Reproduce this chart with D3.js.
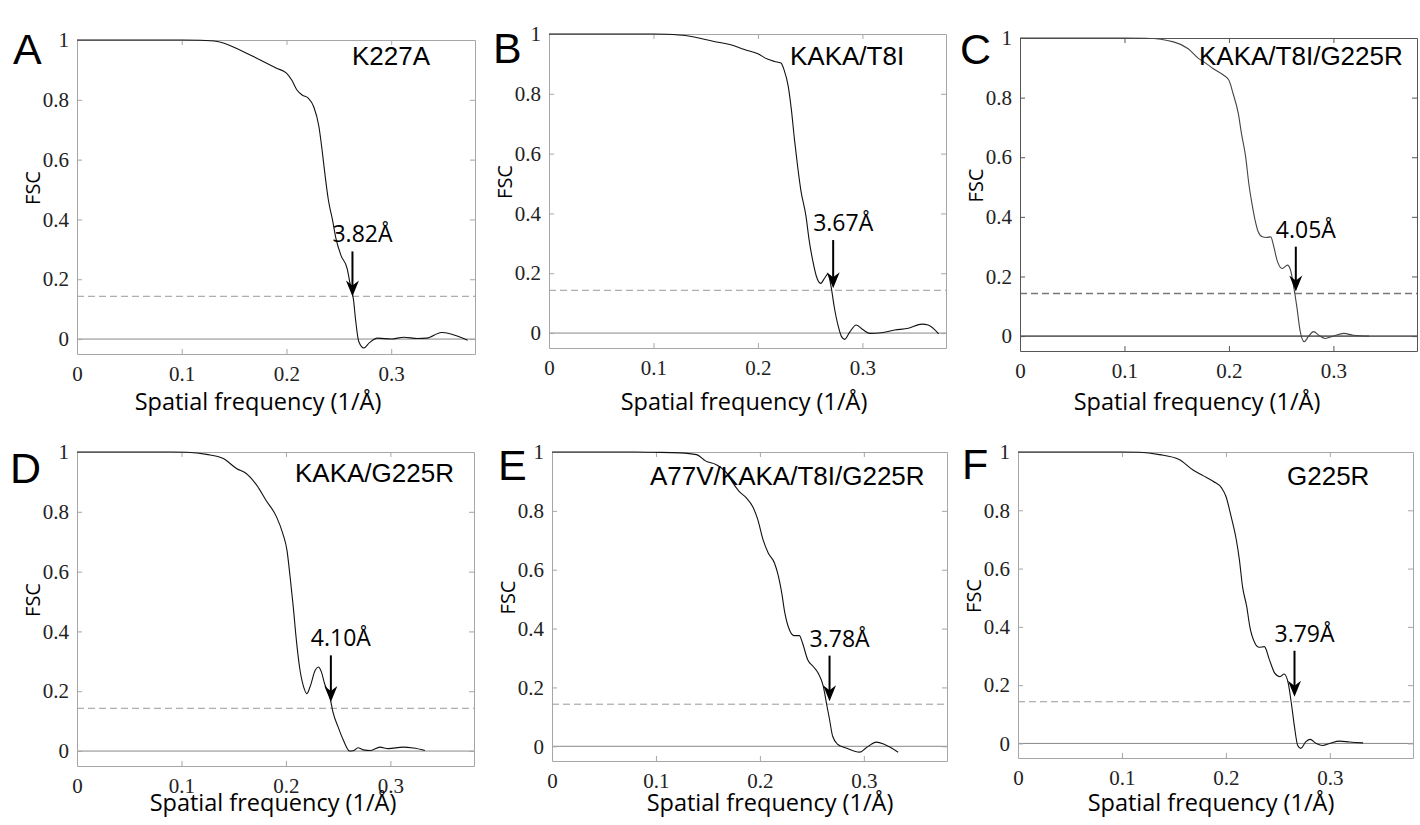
<!DOCTYPE html>
<html lang="en">
<head>
  <meta charset="UTF-8">
  <title>FSC curves</title>
  <script src="https://d3js.org/d3.v7.min.js"></script>
  <style>
    body { margin: 0; background: #fff; }
  </style>
</head>
<body>
  <div id="chart"></div>

  <script>
    // FSC curves, [spatial frequency (1/Å), FSC]
    const fscA = [[0,1],[0.1,1],[0.118,0.999],[0.134,0.995],[0.156,0.966],[0.175,0.933],[0.191,0.905],[0.2,0.889],[0.205,0.866],[0.21,0.833],[0.215,0.816],[0.221,0.805],[0.226,0.777],[0.231,0.71],[0.234,0.632],[0.237,0.543],[0.24,0.465],[0.244,0.398],[0.247,0.34],[0.252,0.28],[0.258,0.235],[0.261,0.18],[0.264,0.131],[0.266,0.064],[0.269,-0.008],[0.274,-0.03],[0.279,-0.013],[0.287,0.003],[0.3,0],[0.312,0.006],[0.325,0.002],[0.334,0.003],[0.348,0.022],[0.357,0.017],[0.373,-0.004]];
    const fscB = [[0,1],[0.1,1],[0.113,0.999],[0.132,0.994],[0.158,0.975],[0.174,0.964],[0.187,0.948],[0.2,0.934],[0.209,0.916],[0.216,0.908],[0.222,0.903],[0.225,0.88],[0.229,0.825],[0.232,0.747],[0.235,0.646],[0.238,0.557],[0.241,0.479],[0.246,0.39],[0.249,0.311],[0.253,0.233],[0.256,0.189],[0.26,0.166],[0.264,0.185],[0.267,0.198],[0.27,0.155],[0.273,0.088],[0.277,0.021],[0.28,-0.012],[0.283,-0.021],[0.288,0.004],[0.294,0.027],[0.301,0.01],[0.307,-0.001],[0.318,0.001],[0.331,0.01],[0.344,0.016],[0.357,0.03],[0.363,0.027],[0.373,-0.003]];
    const fscC = [[0,1],[0.1,1],[0.121,0.999],[0.147,0.987],[0.161,0.964],[0.171,0.931],[0.176,0.92],[0.185,0.897],[0.195,0.875],[0.2,0.858],[0.204,0.813],[0.209,0.746],[0.212,0.679],[0.216,0.601],[0.219,0.512],[0.222,0.445],[0.225,0.389],[0.228,0.35],[0.232,0.333],[0.236,0.331],[0.24,0.333],[0.243,0.299],[0.246,0.255],[0.251,0.227],[0.256,0.238],[0.259,0.221],[0.262,0.165],[0.265,0.098],[0.268,0.02],[0.272,-0.019],[0.276,-0.002],[0.281,0.015],[0.286,0.003],[0.292,-0.008],[0.3,0],[0.31,0.009],[0.319,0.003],[0.334,0]];
    const fscD = [[0,1],[0.09,1],[0.105,0.999],[0.124,0.992],[0.14,0.978],[0.153,0.944],[0.162,0.928],[0.172,0.889],[0.181,0.838],[0.191,0.783],[0.197,0.727],[0.201,0.671],[0.204,0.582],[0.207,0.482],[0.21,0.37],[0.213,0.281],[0.217,0.214],[0.22,0.192],[0.223,0.214],[0.228,0.27],[0.231,0.281],[0.234,0.264],[0.237,0.225],[0.242,0.181],[0.245,0.13],[0.25,0.08],[0.255,0.036],[0.261,0],[0.265,0.002],[0.269,0.011],[0.274,0.004],[0.281,0.002],[0.29,0.013],[0.298,0.008],[0.312,0.013],[0.322,0.01],[0.333,0.002]];
    const fscE = [[0,1],[0.08,1],[0.097,0.999],[0.123,0.997],[0.139,0.991],[0.148,0.969],[0.158,0.957],[0.168,0.929],[0.174,0.895],[0.18,0.866],[0.187,0.844],[0.193,0.815],[0.198,0.77],[0.203,0.702],[0.208,0.657],[0.214,0.623],[0.217,0.589],[0.221,0.521],[0.224,0.453],[0.229,0.391],[0.233,0.376],[0.238,0.376],[0.241,0.351],[0.246,0.294],[0.251,0.272],[0.256,0.249],[0.261,0.204],[0.264,0.147],[0.267,0.091],[0.27,0.034],[0.275,0.006],[0.283,-0.006],[0.296,-0.02],[0.302,-0.006],[0.312,0.014],[0.32,0.006],[0.333,-0.02]];
    const fscF = [[0,1],[0.1,1],[0.117,0.999],[0.136,0.991],[0.155,0.974],[0.168,0.939],[0.178,0.919],[0.188,0.899],[0.196,0.876],[0.2,0.848],[0.205,0.779],[0.21,0.699],[0.213,0.63],[0.216,0.538],[0.22,0.47],[0.223,0.401],[0.228,0.344],[0.232,0.33],[0.237,0.332],[0.242,0.286],[0.247,0.241],[0.252,0.229],[0.256,0.238],[0.26,0.206],[0.263,0.137],[0.266,0.057],[0.269,-0.006],[0.272,-0.017],[0.277,0.006],[0.281,0.014],[0.287,0],[0.293,-0.007],[0.3,0],[0.309,0.008],[0.319,0.005],[0.332,0.002]];

    const curves = [fscA, fscB, fscC, fscD, fscE, fscF];
    const letters = ["A", "B", "C", "D", "E", "F"];
    const mutants = ["K227A", "KAKA/T8I", "KAKA/T8I/G225R", "KAKA/G225R", "A77V/KAKA/T8I/G225R", "G225R"];
    const resLabels = ["3.82Å", "3.67Å", "4.05Å", "4.10Å", "3.78Å", "3.79Å"];
    // where the arrows point (frequency) and the FSC span of each arrow
    const arrowFreq = [0.263, 0.272, 0.264, 0.243, 0.267, 0.266];
    const arrowFrom = [0.293, 0.311, 0.30, 0.32, 0.308, 0.318];
    const arrowTo = [0.142, 0.15, 0.15, 0.164, 0.153, 0.16];
    const threshold = 0.143;
    const xTicks = [0, 0.1, 0.2, 0.3];
    const yTicks = [0, 0.2, 0.4, 0.6, 0.8, 1];
    const xDomain = [0, 0.38];
    const yDomain = [-0.05, 1];

    // panel placement on the page
    const boxes = [
      { left: 77, right: 475, top: 40, bottom: 354, lx: 13, ly: 64, mx: 352, my: 65, tx: 258, ty: 410, frame: "#a6a6a6", ink: "#111" },
      { left: 549, right: 946, top: 34, bottom: 348, lx: 493, ly: 63, mx: 790, my: 65, tx: 744, ty: 410, frame: "#a6a6a6", ink: "#111" },
      { left: 1020, right: 1417, top: 38, bottom: 351, lx: 960, ly: 64, mx: 1199, my: 65, tx: 1197, ty: 410, frame: "#555", ink: "#444" },
      { left: 77, right: 474, top: 452, bottom: 766, lx: 10, ly: 483, mx: 295, my: 482, tx: 273, ty: 811, frame: "#a6a6a6", ink: "#111" },
      { left: 552, right: 947, top: 452, bottom: 761, lx: 498, ly: 480, mx: 650, my: 485, tx: 770, ty: 811, frame: "#a6a6a6", ink: "#111" },
      { left: 1018, right: 1413, top: 452, bottom: 758, lx: 962, ly: 479, mx: 1287, my: 485, tx: 1211, ty: 811, frame: "#a6a6a6", ink: "#111" }
    ];

    const svg = d3.select("#chart")
      .append("svg")
      .attr("width", 1420)
      .attr("height", 825)
      .style("background", "#fff");

    const fmt = d => d === 0 ? "0" : d === 1 ? "1" : d3.format(".1f")(d);

    curves.forEach((data, i) => {
      const b = boxes[i];
      const x = d3.scaleLinear().domain(xDomain).range([b.left, b.right]);
      const y = d3.scaleLinear().domain(yDomain).range([b.bottom, b.top]);
      const g = svg.append("g");

      // reference lines
      g.append("line")
        .attr("x1", b.left).attr("x2", b.right)
        .attr("y1", y(0)).attr("y2", y(0))
        .attr("stroke", i === 2 ? "#666" : "#888")
        .attr("stroke-width", i === 2 ? 1.6 : 1);
      g.append("line")
        .attr("x1", b.left).attr("x2", b.right)
        .attr("y1", y(threshold)).attr("y2", y(threshold))
        .attr("stroke", i === 2 ? "#777" : "#999")
        .attr("stroke-width", i === 2 ? 1.6 : 1)
        .attr("stroke-dasharray", "7,4");

      // axes with inward ticks on every side
      const styleAxis = sel => {
        sel.select(".domain").attr("stroke", b.frame);
        sel.selectAll(".tick line").attr("stroke", b.frame);
        sel.selectAll("text")
          .attr("fill", "#222")
          .style("font-family", "'Liberation Serif', 'Times New Roman', serif")
          .style("font-size", "21px");
      };
      g.append("g")
        .attr("transform", `translate(0,${b.bottom})`)
        .call(d3.axisBottom(x).tickValues(xTicks).tickFormat(fmt).tickSize(-5).tickSizeOuter(0).tickPadding(12))
        .call(styleAxis);
      g.append("g")
        .attr("transform", `translate(0,${b.top})`)
        .call(d3.axisTop(x).tickValues(xTicks).tickFormat("").tickSize(-5).tickSizeOuter(0))
        .call(styleAxis);
      g.append("g")
        .attr("transform", `translate(${b.left},0)`)
        .call(d3.axisLeft(y).tickValues(yTicks).tickFormat(fmt).tickSize(-5).tickSizeOuter(0).tickPadding(8))
        .call(styleAxis);
      g.append("g")
        .attr("transform", `translate(${b.right},0)`)
        .call(d3.axisRight(y).tickValues(yTicks).tickFormat("").tickSize(-5).tickSizeOuter(0))
        .call(styleAxis);

      // the FSC curve
      g.append("path")
        .datum(data)
        .attr("fill", "none")
        .attr("stroke", b.ink)
        .attr("stroke-width", 1.1)
        .attr("d", d3.line().x(d => x(d[0])).y(d => y(d[1])).curve(d3.curveMonotoneX));

      // resolution arrow
      const ax = x(arrowFreq[i]);
      const y0 = y(arrowFrom[i]);
      const y1 = y(arrowTo[i]);
      g.append("line")
        .attr("x1", ax).attr("x2", ax)
        .attr("y1", y0).attr("y2", y1 - 10)
        .attr("stroke", "#000")
        .attr("stroke-width", 2);
      g.append("path")
        .attr("d", `M${ax},${y1} L${ax - 6.5},${y1 - 16} L${ax},${y1 - 11} L${ax + 6.5},${y1 - 16} Z`)
        .attr("fill", "#000");
      g.append("text")
        .attr("x", ax - 20)
        .attr("y", y0 - 9)
        .style("font-family", "'Open Sans', sans-serif")
        .style("font-size", "23px")
        .attr("fill", "#000")
        .text(resLabels[i]);

      // texts
      g.append("text")
        .attr("x", b.lx).attr("y", b.ly)
        .style("font-family", "'Liberation Sans', Arial, sans-serif")
        .style("font-size", "43px")
        .text(letters[i]);
      g.append("text")
        .attr("x", b.mx).attr("y", b.my)
        .style("font-family", "'Liberation Sans', Arial, sans-serif")
        .style("font-size", "26px")
        .text(mutants[i]);
      g.append("text")
        .attr("x", b.tx).attr("y", b.ty)
        .attr("text-anchor", "middle")
        .style("font-family", "'Open Sans', sans-serif")
        .style("font-size", "23.5px")
        .text("Spatial frequency (1/Å)");
      g.append("text")
        .attr("transform", `translate(${b.left - 37},${(b.top + b.bottom) / 2 - 9}) rotate(-90)`)
        .attr("text-anchor", "middle")
        .style("font-family", "'Open Sans', sans-serif")
        .style("font-size", "20px")
        .text("FSC");
    });
  </script>
</body>
</html>
